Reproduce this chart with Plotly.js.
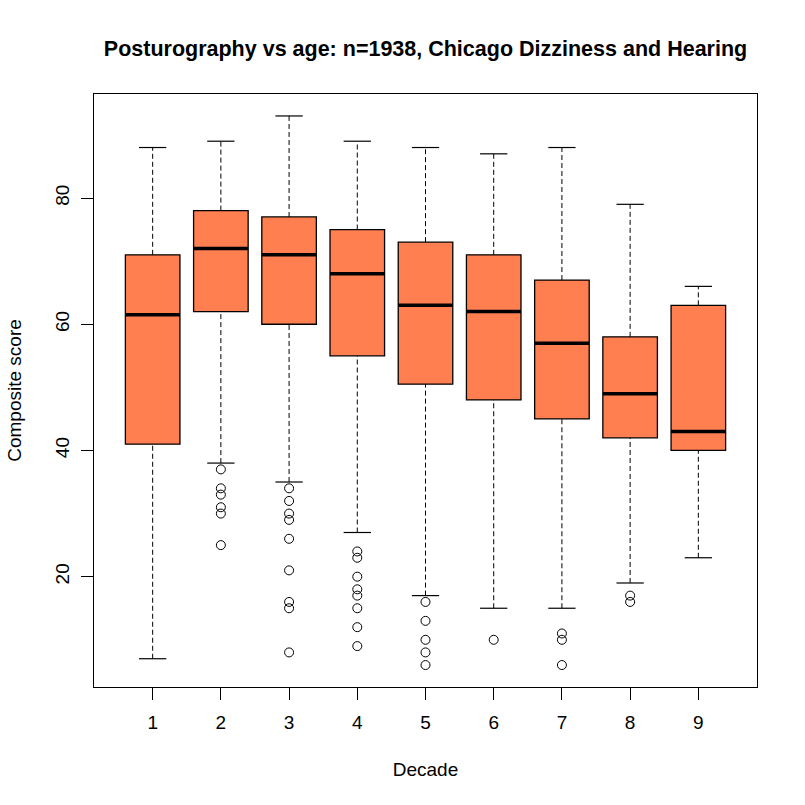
<!DOCTYPE html>
<html>
<head>
<meta charset="utf-8">
<script src="https://cdn.plot.ly/plotly-3.0.1.min.js"></script>
<style>
  html, body { margin: 0; padding: 0; background: #fff; }
  #chart { width: 805px; height: 805px; }
</style>
</head>
<body>
<div id="chart"></div>
<script>
// Decade groups and box statistics
var decades = [1, 2, 3, 4, 5, 6, 7, 8, 9];
var lowerWhisker = [7, 38, 35, 27, 17, 15, 15, 19, 23];
var q1 = [41, 62, 60, 55, 50.5, 48, 45, 42, 40];
var medians = [61.5, 72, 71, 68, 63, 62, 57, 49, 43];
var q3 = [71, 78, 77, 75, 73, 71, 67, 58, 63];
var upperWhisker = [88, 89, 93, 89, 88, 87, 88, 79, 66];
var outliers = [
	[],
	[37, 34, 33, 31, 30, 25],
	[34, 32, 30, 29, 26, 21, 16, 15, 8],
	[24, 23, 20, 18, 17, 15, 12, 9],
	[16, 13, 10, 8, 6],
	[10],
	[11, 10, 6],
	[17, 16],
	[]
];
var yTicks = [20, 40, 60, 80];

var boxHalf = 0.4;
var capHalf = 0.2;

// Building segment lists from the statistics:
var medX = [], medY = [];
var whiskX = [], whiskY = [];
var capX = [], capY = [];
var outX = [], outY = [];
decades.forEach(function (d, i) {
	medX.push(d - boxHalf, d + boxHalf, null);
	medY.push(medians[i], medians[i], null);

	whiskX.push(d, d, null, d, d, null);
	whiskY.push(lowerWhisker[i], q1[i], null, q3[i], upperWhisker[i], null);

	capX.push(d - capHalf, d + capHalf, null, d - capHalf, d + capHalf, null);
	capY.push(lowerWhisker[i], lowerWhisker[i], null, upperWhisker[i], upperWhisker[i], null);

	outliers[i].forEach(function (v) {
		outX.push(d);
		outY.push(v);
	});
});

var traces = [
	{
		type: 'scatter', mode: 'lines', x: whiskX, y: whiskY,
		line: {color: 'black', width: 1, dash: '5px,3px'}, hoverinfo: 'skip'
	},
	{
		type: 'scatter', mode: 'lines', x: capX, y: capY,
		line: {color: 'black', width: 1.2}, hoverinfo: 'skip'
	},
	{
		type: 'box', x: decades, q1: q1, median: medians, q3: q3,
		lowerfence: q1, upperfence: q3,
		width: 0.8, whiskerwidth: 0,
		fillcolor: '#FF7F50', line: {color: 'black', width: 1.3}
	},
	{
		type: 'scatter', mode: 'lines', x: medX, y: medY,
		line: {color: 'black', width: 3.5}, hoverinfo: 'skip'
	},
	{
		type: 'scatter', mode: 'markers', x: outX, y: outY,
		marker: {symbol: 'circle-open', size: 9, color: 'black', line: {width: 1}}
	}
];

var axisCommon = {
	showgrid: false, zeroline: false,
	showline: true, mirror: true, linecolor: 'black', linewidth: 1,
	ticks: 'outside', ticklen: 12, tickcolor: 'black', tickwidth: 1,
	tickfont: {size: 19, color: 'black'}
};

Plotly.newPlot('chart', traces, {
	width: 805, height: 805,
	showlegend: false,
	paper_bgcolor: 'white', plot_bgcolor: 'white',
	font: {family: 'Liberation Sans, Arial, sans-serif', color: 'black'},
	margin: {l: 94, r: 48, t: 94, b: 118},
	title: {
		text: 'Posturography vs age: n=1938, Chicago Dizziness and Hearing',
		font: {size: 21.5, weight: 'bold', color: 'black'},
		x: 0.5, xref: 'paper', xanchor: 'center',
		y: 1 - 48 / 805, yref: 'container', yanchor: 'middle'
	},
	xaxis: Object.assign({}, axisCommon, {
		range: [0.14, 9.86],
		tickvals: decades,
		ticklabelstandoff: 6,
		title: {text: 'Decade', font: {size: 19}, standoff: 30}
	}),
	yaxis: Object.assign({}, axisCommon, {
		range: [2.52, 96.48],
		tickvals: yTicks,
		tickangle: -90,
		ticklabelstandoff: 4,
		title: {text: 'Composite score', font: {size: 19}, standoff: 25}
	})
}, {displayModeBar: false, staticPlot: true});
</script>
</body>
</html>
